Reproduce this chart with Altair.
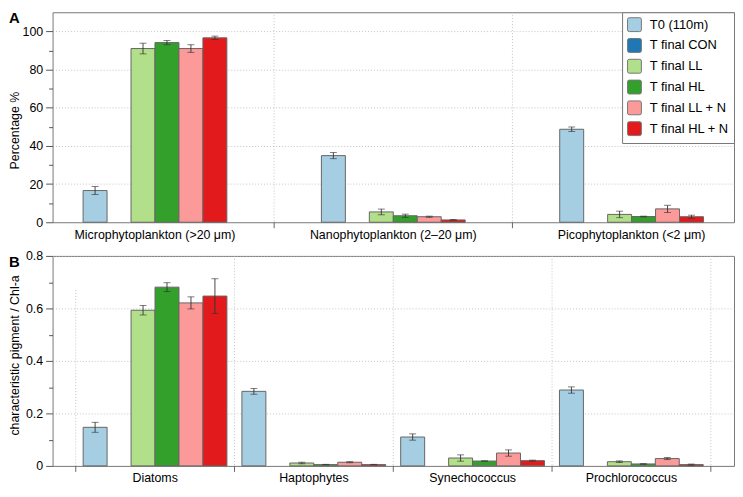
import altair as alt
import pandas as pd

FONT = "Liberation Sans"

series = ["T0 (110m)", "T final CON", "T final LL", "T final HL", "T final LL + N", "T final HL + N"]
colors = ["#A6CEE3", "#1F78B4", "#B2DF8A", "#33A02C", "#FB9A99", "#E31A1C"]

# Panel A: size fractions (%)
groups_a = ["Microphytoplankton (>20 μm)", "Nanophytoplankton (2–20 μm)", "Picophytoplankton (<2 μm)"]
a_t0 = [16.6, 34.9, 48.7]
a_t0_err = [2.1, 1.6, 1.2]
a_ll = [91.0, 5.4, 4.1]
a_ll_err = [2.8, 1.5, 1.7]
a_hl = [94.1, 3.4, 3.0]
a_hl_err = [1.1, 0.85, 0.2]
a_lln = [91.0, 2.9, 7.0]
a_lln_err = [2.0, 0.3, 1.9]
a_hln = [96.6, 1.2, 2.9]
a_hln_err = [0.9, 0.2, 0.8]

# Panel B: characteristic pigment / Chl-a
groups_b = ["Diatoms", "Haptophytes", "Synechococcus", "Prochlorococcus"]
b_t0 = [0.147, 0.284, 0.110, 0.289]
b_t0_err = [0.019, 0.011, 0.012, 0.012]
b_ll = [0.593, 0.011, 0.030, 0.016]
b_ll_err = [0.018, 0.003, 0.012, 0.003]
b_hl = [0.681, 0.005, 0.0185, 0.0074]
b_hl_err = [0.017, 0.001, 0.001, 0.001]
b_lln = [0.621, 0.014, 0.049, 0.028]
b_lln_err = [0.023, 0.002, 0.012, 0.004]
b_hln = [0.647, 0.005, 0.020, 0.005]
b_hln_err = [0.066, 0.001, 0.002, 0.002]

ticks_a = [0, 10, 20, 30, 40, 50, 60, 70, 80, 90, 100]
ticks_b = [0, 0.1, 0.2, 0.3, 0.4, 0.5, 0.6, 0.7, 0.8]


def build(groups, pairs):
    rows = []
    for name, (vals, errs) in pairs.items():
        for g, v, e in zip(groups, vals, errs):
            rows.append({"group": g, "series": name, "value": v, "lo": v - e, "hi": v + e})
    return pd.DataFrame(rows)


df_a = build(groups_a, {
    series[0]: (a_t0, a_t0_err), series[2]: (a_ll, a_ll_err), series[3]: (a_hl, a_hl_err),
    series[4]: (a_lln, a_lln_err), series[5]: (a_hln, a_hln_err)})
df_b = build(groups_b, {
    series[0]: (b_t0, b_t0_err), series[2]: (b_ll, b_ll_err), series[3]: (b_hl, b_hl_err),
    series[4]: (b_lln, b_lln_err), series[5]: (b_hln, b_hln_err)})

sep_a = pd.DataFrame({"group": groups_a[1:], "top": [110, 110]})
sep_b = pd.DataFrame({"group": groups_b, "top": [0.67, 0.8, 0.8, 0.8]})
sep_b_end = pd.DataFrame({"group": groups_b[-1:], "top": [0.8]})

W = 688
H = 212

ROUNDED = ("M -1 -0.75 Q -1 -1 -0.75 -1 L 0.75 -1 Q 1 -1 1 -0.75 L 1 0.75 "
           "Q 1 1 0.75 1 L -0.75 1 Q -1 1 -1 0.75 Z")


def half_gap(n, pi, po):
    step = W / (n - pi + 2 * po)
    return step * pi / 2


def panel(df, groups, ymax, yvals, major, fmt, ytitle, title_y, pi, po, seps, letter, legend):
    x_axis = alt.Axis(title=None, labelAngle=0, ticks=False, domain=False, grid=False,
                      labelFontSize=12.5, labelFont=FONT, labelColor="black", labelPadding=6)
    xscale = alt.Scale(domain=groups, paddingInner=pi, paddingOuter=po)
    hg = half_gap(len(groups), pi, po)

    def X(bp=None):
        if bp is None:
            return alt.X("group:N", scale=xscale, axis=x_axis)
        return alt.X("group:N", scale=xscale, axis=x_axis, bandPosition=bp)

    yscale = alt.Scale(domain=[0, ymax], nice=False, zero=True)
    y_axis = alt.Axis(
        title=ytitle, values=yvals, format=fmt,
        labelExpr=f"{major} ? datum.label : ''",
        tickSize={"condition": {"test": major, "value": 7}, "value": 4},
        tickColor="#555", domain=False,
        grid=True, gridDash=[1, 2], gridColor="#b5b5b5", gridWidth=0.8,
        gridOpacity={"condition": {"test": f"{major} && datum.value > 0", "value": 1}, "value": 0},
        labelFontSize=12.5, labelFont=FONT, labelColor="black", labelPadding=3,
        titleFontSize=12.5, titleFont=FONT, titleFontWeight="normal", titleColor="black",
        titleX=-38, titleY=title_y, titleBaseline="middle")

    def Y(field):
        return alt.Y(f"{field}:Q", scale=yscale, axis=y_axis)

    xoff = alt.XOffset("series:N", scale=alt.Scale(domain=series, paddingInner=0, paddingOuter=0))
    color = alt.Color("series:N", scale=alt.Scale(domain=series, range=colors), legend=legend)

    layers = []
    for sdf, side in seps:
        bp = 0 if side < 0 else 1
        off = side * hg
        layers.append(alt.Chart(sdf).mark_rule(color="#b5b5b5", strokeDash=[1, 2], strokeWidth=0.8,
                                               xOffset=off)
                      .encode(x=X(bp), y=Y("top"), y2=alt.datum(0)))
        layers.append(alt.Chart(sdf).mark_rule(color="#666", strokeWidth=1, xOffset=off)
                      .encode(x=X(bp), y=alt.value(H), y2=alt.value(H + 6)))
    base = alt.Chart(df)
    layers.append(base.mark_bar(stroke="#666", strokeWidth=1).encode(
        x=X(), xOffset=xoff, y=Y("value"), color=color))
    layers.append(base.mark_rule(color="#333", strokeWidth=0.9).encode(
        x=X(), xOffset=xoff, y=Y("lo"), y2="hi:Q"))
    layers.append(base.mark_tick(color="#333", thickness=0.9, size=7).encode(
        x=X(), xOffset=xoff, y=Y("lo")))
    layers.append(base.mark_tick(color="#333", thickness=0.9, size=7).encode(
        x=X(), xOffset=xoff, y=Y("hi")))
    layers.append(alt.Chart(pd.DataFrame({"label": [letter]})).mark_text(
        fontSize=15, fontWeight="bold", font=FONT, align="left", baseline="middle", color="black"
    ).encode(text="label:N", x=alt.value(-44), y=alt.value(6)))
    return alt.layer(*layers).properties(width=W, height=H)


legend_a = alt.Legend(title=None, orient="top-right", offset=0, padding=5, strokeColor="#777",
                      fillColor="white", symbolType=ROUNDED, symbolSize=196,
                      symbolStrokeColor="#777", symbolStrokeWidth=1, symbolOpacity=1,
                      labelFontSize=13, labelFont=FONT, labelColor="black",
                      rowPadding=2, labelOffset=8, cornerRadius=0)

chart_a = panel(df_a, groups_a, 110, ticks_a, "round(datum.value/10) % 2 === 0", "d",
                "Percentage %", 119, 96 / 242, 31 / 242, [(sep_a, -1)], "A", legend_a)
chart_b = panel(df_b, groups_b, 0.8, ticks_b, "round(datum.value*10) % 2 === 0", "~g",
                "characteristic pigment / Chl-a", 100, 15 / 161, 31 / 161,
                [(sep_b, -1), (sep_b_end, 1)], "B", None)

chart = alt.vconcat(chart_a, chart_b, spacing=8).resolve_scale(
    color="independent", x="independent", y="independent"
).properties(padding={"left": 0, "top": 0, "right": 0, "bottom": 0}
).configure_view(stroke="#777", strokeWidth=1)

chart.save("out.html", embed_options={"renderer": "svg", "actions": False})
